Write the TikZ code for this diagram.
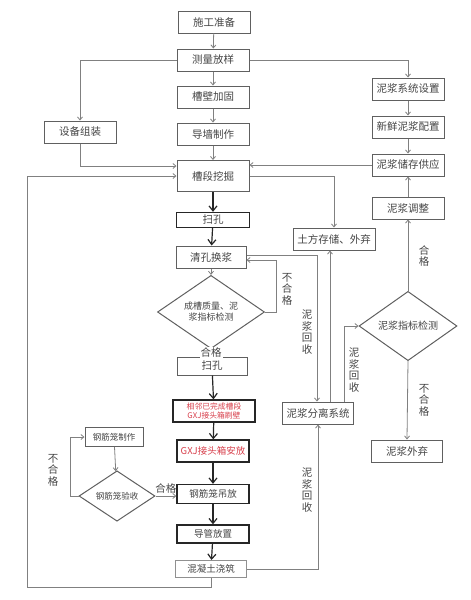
\documentclass[tikz,border=0pt]{standalone}
\usepackage{fontspec}
\setmainfont{Noto Sans CJK SC}
\usetikzlibrary{shapes.geometric,arrows.meta,positioning,calc}
\definecolor{ln-gray}{HTML}{808080}
\definecolor{box-gray}{HTML}{606060}
\definecolor{txt-gray}{HTML}{454545}
\definecolor{mark-red}{HTML}{D8404C}

\begin{document}
\begin{tikzpicture}[x=1pt, y=-1pt,
  proc/.style={rectangle, draw=box-gray, line width=1pt, fill=white,
               minimum width=72pt, minimum height=22pt, inner sep=1pt,
               align=center, text=txt-gray, font=\fontsize{10.5}{12}\selectfont},
  procb/.style={proc, draw=black!85, line width=1.3pt},
  chk/.style={diamond, draw=box-gray, line width=1pt, fill=white, inner sep=0pt,
              align=center, text=txt-gray},
  fl/.style={-{Straight Barb[length=3pt,width=5pt]}, ln-gray, line width=0.8pt},
  flb/.style={-{Straight Barb[length=5pt,width=8pt]}, black!85, line width=1.2pt},
  lbl/.style={text=txt-gray, align=center, inner sep=1pt,
              font=\fontsize{10.5}{11.5}\selectfont}
]
  \useasboundingbox (0,0) rectangle (471,600);

  % Main column
  \node[proc] (prep)   at (214,22)  {施工准备};
  \node[proc] (survey) at (213,60)  {测量放样};
  \node[proc] (wall)   at (213,97)  {槽壁加固};
  \node[proc] (guide)  at (213,134) {导墙制作};
  \node[proc, minimum height=31pt] (dig) at (213,176) {槽段挖掘};
  \node[procb, minimum width=73pt, minimum height=15pt] (sweep1) at (213,220) {扫孔};
  \node[proc, minimum width=70pt] (clean) at (211,257) {清孔换浆};
  \node[chk, minimum width=107pt, minimum height=53pt,
        font=\fontsize{9}{11}\selectfont] (qchk) at (211,312) {成槽质量、泥\\浆指标检测};
  \node[proc, minimum width=70pt, minimum height=18pt] (sweep2) at (212,366) {扫孔};
  \node[procb, minimum width=82pt, text=mark-red,
        font=\fontsize{7.8}{9}\selectfont] (brush) at (214,411) {相邻已完成槽段\\GXJ接头箱刷壁};
  \node[procb, text=mark-red, font=\fontsize{9.5}{11}\selectfont] (gxj) at (213,451) {GXJ接头箱安放};
  \node[procb, minimum height=19pt, font=\fontsize{9.5}{11}\selectfont] (lift) at (213,494) {钢筋笼吊放};
  \node[procb, minimum height=18pt, font=\fontsize{9.5}{11}\selectfont] (pipe) at (213,534) {导管放置};
  \node[proc, draw=box-gray!70, minimum width=71pt, minimum height=17pt,
        font=\fontsize{9.5}{11}\selectfont] (pour) at (211,569) {混凝土浇筑};

  % Left side
  \node[proc] (equip) at (80,132) {设备组装};
  \node[proc, minimum width=58pt, minimum height=19pt,
        font=\fontsize{8.5}{10}\selectfont] (cagemk) at (114,437) {钢筋笼制作};
  \node[chk, minimum width=76pt, minimum height=38pt,
        font=\fontsize{8.5}{10}\selectfont] (cagechk) at (117,496) {钢筋笼验收};

  % Right side
  \node[proc] (slsys) at (408,89)  {泥浆系统设置};
  \node[proc] (slnew) at (408,127) {新鲜泥浆配置};
  \node[proc] (slsto) at (408,165) {泥浆储存供应};
  \node[proc] (sladj) at (408,208) {泥浆调整};
  \node[proc, minimum width=82pt] (soil) at (334,239) {土方存储、外弃};
  \node[chk, minimum width=98pt, minimum height=41pt,
        font=\fontsize{10}{12}\selectfont] (slchk) at (408,326) {泥浆指标检测};
  \node[proc, minimum width=71pt] (slout) at (407,451) {泥浆外弃};
  \node[proc, minimum width=71pt] (sep) at (318,413) {泥浆分离系统};

  \coordinate (loopL) at (27,587);
  \coordinate (sepA) at ([xshift=12pt]sep.north);
  \coordinate (sepB) at ([xshift=26pt]sep.north);

  % Top part
  \draw[fl] (prep) -- (survey);
  \draw[fl] (survey) -- (wall);
  \draw[fl] (wall) -- (guide);
  \draw[fl] (guide) -- (dig);
  \draw[fl] (survey.west) -| (equip.north);
  \draw[fl] (survey.east) -| (slsys.north);
  \draw[fl] (slsys) -- (slnew);
  \draw[fl] (slnew) -- (slsto);
  \draw[fl] (equip.south) |- ([yshift=10pt]dig.west);
  \draw[fl] (slsto.west) -- (slsto.west -| dig.east);
  \draw[fl] (sladj) -- (slsto);
  \draw[fl] (dig.east) -| (soil.north);
  \draw[fl] (pour.south) |- (loopL) |- (dig.west);

  % Trench
  \draw[flb] (dig) -- (sweep1);
  \draw[flb] (sweep1) -- (clean);
  \draw[fl] (clean) -- (qchk);
  \draw[fl] (qchk.east) -- ++(11,0) |- ([yshift=-3pt]clean.east);
  \node[lbl] (ngA) at (287,289) {不\\合\\格};
  \draw[fl] (qchk.south) -- node[lbl, fill=white]{合格} (sweep2);
  \draw[flb] (sweep2) -- (brush);
  \draw[flb] (brush) -- (gxj);
  \draw[flb] (gxj) -- (lift);
  \draw[flb] (lift) -- (pipe);
  \draw[flb] (pipe) -- (pour);

  % Cage
  \draw[fl] (cagemk) -- (cagechk);
  \draw[fl] (cagechk.west) -- ++(-8,0) |- (cagemk.west);
  \node[lbl] (ngB) at (53,470) {不\\合\\格};
  \draw[fl] (cagechk.east) -- node[lbl, above, yshift=1pt]{合格} (cagechk.east -| lift.west);

  % Slurry
  \draw[fl] ([yshift=2pt]clean.east) -| ([xshift=-1pt]sep.north);
  \node[lbl] (recA) at (307,332) {泥\\浆\\回\\收};
  \draw[fl] (sepA) -- (sepA |- soil.south);
  \draw[fl] (sepB) |- (slchk.west);
  \node[lbl] (recB) at (354,370) {泥\\浆\\回\\收};
  \draw[fl] (pour.east) -| (sep.south);
  \node[lbl] (recC) at (307,490) {泥\\浆\\回\\收};
  \draw[fl] (slchk.north) -- (sladj.south);
  \node[lbl] (okC) at (424,256) {合\\格};
  \draw[fl] (slchk.south) -- (slout.north);
  \node[lbl] (ngC) at (424,400) {不\\合\\格};
\end{tikzpicture}
\end{document}
